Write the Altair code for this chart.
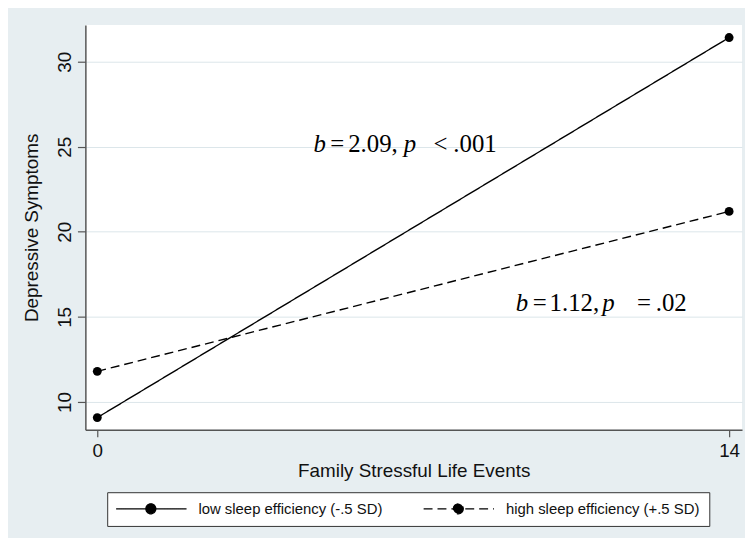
import altair as alt
import pandas as pd

# ---- data ----
events = [0, 14]
low_sleep = [9.08, 31.42]
high_sleep = [11.8, 21.2]
series_names = ["low sleep efficiency (-.5 SD)", "high sleep efficiency (+.5 SD)"]
x_ticks = [0, 14]
y_ticks = [10, 15, 20, 25, 30]
ann1_tokens = ["b", "=", "2.09,", "p", "<", ".001"]
ann2_tokens = ["b", "=", "1.12,", "p", "=", ".02"]
token_italic = [True, False, False, True, False, False]

rows = []
for name, vals in zip(series_names, [low_sleep, high_sleep]):
    for xv, yv in zip(events, vals):
        rows.append({"events": xv, "symptoms": yv, "series": name})
df = pd.DataFrame(rows)

SANS = "Liberation Sans"
SERIF = "Liberation Serif"
BG = "#E7EEF1"
AXIS = "#555555"

xs = alt.Scale(domain=[-0.264, 14.286], nice=False, zero=False)
ys = alt.Scale(domain=[8.367, 32.157], nice=False, zero=False)

x_axis = alt.Axis(values=x_ticks, grid=False, domainColor=AXIS, domainWidth=1.5,
                  tickColor=AXIS, tickWidth=1.2, tickSize=7,
                  labelFont=SANS, labelFontSize=19, labelColor="#111111",
                  labelBaseline="alphabetic", labelPadding=20, labelFlush=False,
                  title="Family Stressful Life Events", titleFont=SANS,
                  titleFontSize=19, titleFontWeight="normal", titleColor="#111111",
                  titleBaseline="alphabetic", titleY=47)
y_axis = alt.Axis(values=y_ticks, grid=True, gridColor="#DCE6EA", gridWidth=1,
                  domainColor=AXIS, domainWidth=1.5, tickColor=AXIS, tickWidth=1.2,
                  tickSize=8, labelFont=SANS, labelFontSize=19, labelColor="#111111",
                  labelAngle=270, labelAlign="center", labelBaseline="alphabetic",
                  labelPadding=7, labelFlush=False,
                  title="Depressive Symptoms", titleFont=SANS, titleFontSize=19,
                  titleFontWeight="normal", titleColor="#111111",
                  titleBaseline="alphabetic", titleX=-48)

X = alt.X("events:Q", scale=xs, axis=x_axis)
Y = alt.Y("symptoms:Q", scale=ys, axis=y_axis)

dash_scale = alt.Scale(domain=series_names, range=[[1, 0], [9, 5]])

legend_path = "M-1.5,0L12.7,0M6.5,0A1,1 0 1,1 4.5,0A1,1 0 1,1 6.5,0Z"
legend = alt.Legend(title=None, orient="none", legendX=22, legendY=471,
                    direction="horizontal", fillColor="white", strokeColor="#333333",
                    padding=9, symbolType=legend_path, symbolSize=100,
                    symbolStrokeWidth=1.3, symbolFillColor="black",
                    symbolStrokeColor="black", symbolOpacity=1,
                    labelFont=SANS, labelFontSize=15, labelColor="#111111",
                    labelLimit=400, labelOffset=68, columnPadding=38)

lines = alt.Chart(df).mark_line(color="black", strokeWidth=1.4).encode(
    x=X, y=Y,
    strokeDash=alt.StrokeDash("series:N", scale=dash_scale, legend=legend),
)
points = alt.Chart(df).mark_point(filled=True, size=80, color="black",
                                  opacity=1).encode(x=X, y=Y)

layers = [lines, points]


def annotation(tokens, x0, y0, offsets):
    out = []
    for tok, ital, dx in zip(tokens, token_italic, offsets):
        d = pd.DataFrame({"events": [x0], "symptoms": [y0], "t": [tok]})
        out.append(
            alt.Chart(d).mark_text(align="left", baseline="alphabetic", font=SERIF,
                                   fontSize=25, color="black", dx=dx,
                                   fontStyle="italic" if ital else "normal")
            .encode(x=X, y=Y, text="t:N")
        )
    return out


layers += annotation(ann1_tokens, 4.791, 24.68, [0, 17, 35, 91, 121, 141])
layers += annotation(ann2_tokens, 9.275, 15.32, [0, 17, 34, 87, 122, 141])

chart = alt.layer(*layers).properties(
    width=662, height=408,
    autosize=alt.AutoSizeParams(type="none"),
    padding={"left": 78, "top": 15, "right": 3, "bottom": 107},
    background=BG,
).configure_view(fill="white", strokeWidth=0)

chart.save("out.html", embed_options={"renderer": "svg", "actions": False})
